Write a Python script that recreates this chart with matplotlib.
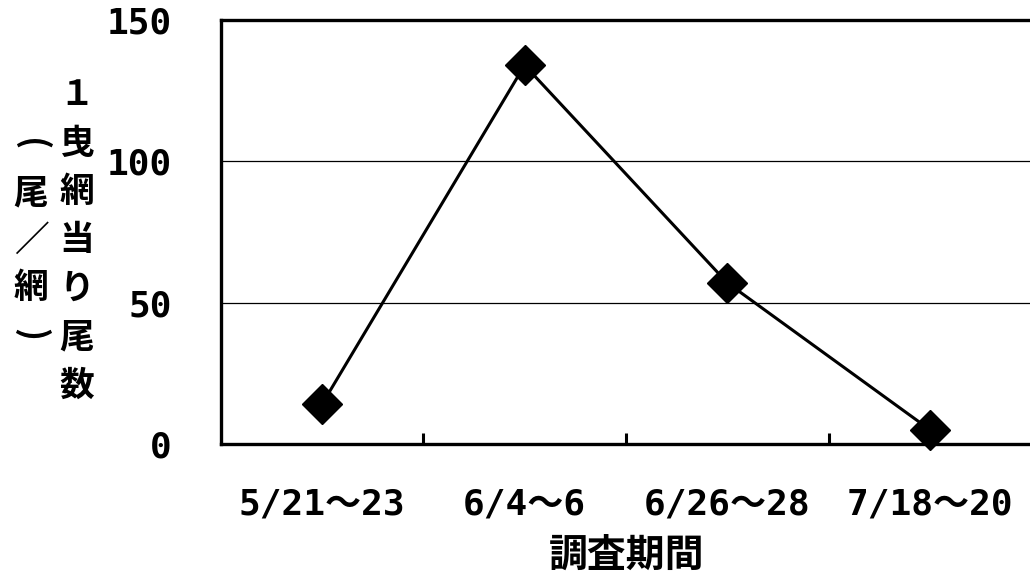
import matplotlib
matplotlib.use("Agg")
import matplotlib.pyplot as plt
from matplotlib.ticker import FixedLocator

plt.rcParams['font.family'] = ['Noto Sans CJK JP', 'DejaVu Sans']
plt.rcParams['font.weight'] = 'bold'

# Data
categories = ["5/21～23", "6/4～6", "6/26～28", "7/18～20"]
values = [14, 134, 57, 5]
yticks = [0, 50, 100, 150]
xlabel = "調査期間"
ylabel_main = "１曳網当り尾数"
ylabel_unit = "(尾／網)"

NUMFONT = ['DejaVu Sans Mono', 'Noto Sans CJK JP']

W, H = 1030, 581
fig = plt.figure(figsize=(W / 100, H / 100), dpi=100)
ax = fig.add_axes([220.5 / W, 137 / H, 811 / W, 424 / H])

x = list(range(len(categories)))
ax.plot(x, values, color='black', lw=2.2, marker='D', markersize=20,
        markerfacecolor='black', markeredgecolor='black', zorder=3, clip_on=False)

ax.set_xlim(-0.5, len(categories) - 0.5)
ax.set_ylim(0, 150)
ax.set_yticks(yticks)
ax.set_yticklabels([str(v) for v in yticks], fontsize=26, fontweight='bold', family=NUMFONT)
ax.set_xticks(x)
ax.set_xticklabels(categories, fontsize=26, fontweight='bold', family=NUMFONT)
ax.xaxis.set_minor_locator(FixedLocator([i + 0.5 for i in range(len(categories) - 1)]))

ax.tick_params(axis='y', length=0, pad=35)
ax.tick_params(axis='x', which='major', length=0, pad=31)
ax.tick_params(axis='x', which='minor', direction='in', length=8, width=2.2, color='black')

ax.yaxis.grid(True, color='black', lw=0.9)
ax.set_axisbelow(True)
for s in ['left', 'bottom', 'top']:
    ax.spines[s].set_linewidth(2.4)
    ax.spines[s].set_color('black')
ax.spines['right'].set_visible(False)

# x-axis title
fig.text(627 / W, 1 - 555 / H, xlabel, fontsize=28, fontweight='bold',
         ha='center', va='center')

# vertical y-axis titles
def vtext(s, xc, yc, pitch):
    n = len(s)
    y0 = yc - pitch * (n - 1) / 2
    for i, ch in enumerate(s):
        rot = -90 if ch in "()" else 0
        fig.text(xc / W, 1 - (y0 + i * pitch) / H, ch, fontsize=25, fontweight='bold',
                 ha='center', va='center', rotation=rot)

vtext(ylabel_main, 77, 240, 48.5)
vtext(ylabel_unit, 31, 240, 47.5)

fig.savefig("out.png", dpi=100)
